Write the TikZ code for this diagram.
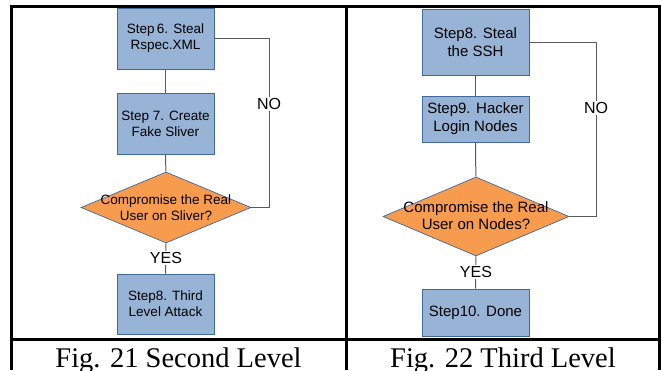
\documentclass[tikz,border=0pt]{standalone}
\usepackage{fontspec}
\setmainfont{Liberation Serif}
\newfontfamily\arialf{Liberation Sans}
\usetikzlibrary{shapes.geometric}
\definecolor{boxfill}{HTML}{97B3D6}
\definecolor{boxline}{HTML}{41699C}
\definecolor{dfill}{HTML}{F79B4F}
\definecolor{conn}{HTML}{5A5A5A}
\begin{document}
\begin{tikzpicture}[x=1pt,y=-1pt,
  stepbox/.style={draw=boxline,fill=boxfill,line width=0.8pt,inner sep=0pt,align=center},
  lbox/.style={stepbox,minimum width=97pt,font=\arialf\fontsize{13.5}{16}\selectfont},
  rbox/.style={stepbox,minimum width=107pt,font=\arialf\fontsize{15}{18}\selectfont},
  decis/.style={shape=diamond,draw=boxline,fill=dfill,line width=0.7pt,inner sep=0pt},
  conline/.style={draw=conn,line width=1pt},
  lab/.style={fill=white,inner sep=1pt,font=\arialf\fontsize{16}{18}\selectfont},
  frame/.style={line width=3pt,draw=black}
]
\useasboundingbox (0,0) rectangle (661,370);
% frame
\draw[frame] (11,370) -- (11,6.5) -- (659,6.5) -- (659,370);
\draw[frame] (346.5,6.5) -- (346.5,370);
\draw[frame] (11,339) -- (659,339);
% captions
\node[font=\fontsize{28.5}{30}\selectfont,anchor=base] (cap1) at (178.5,367) {Fig. 21 Second Level};
\node[font=\fontsize{28.5}{30}\selectfont,anchor=base] (cap2) at (503,367) {Fig. 22 Third Level};

% left diagram
\node[lbox,minimum height=61pt] (a1) at (165.5,38.5) {Step\,6. Steal\\Rspec.XML};
\node[lbox,minimum height=61pt] (a2) at (165.5,123.5) {Step 7. Create\\Fake Sliver};
\node[decis,minimum width=170pt,minimum height=71pt] (ad) at (166,207.5) {};
\node[font=\arialf\fontsize{13.5}{15.5}\selectfont,align=center,inner sep=0pt] (adt) at (166,207.5) {Compromise the Real\\User on Sliver?};
\node[lbox,minimum height=60pt] (a3) at (165.5,304) {Step8. Third\\Level Attack};
\coordinate (an1) at (269,38.5);
\coordinate (an2) at (269,207.5);
\draw[conline] (a1) -- (a2);
\draw[conline] (a2) -- (ad);
\draw[conline] (ad) -- (a3);
\draw[conline] (a1.east) -- (an1) -- (an2) -- (ad.east);
\node[lab] (ano) at (269,104) {NO};
\node[lab] (ayes) at (166,258) {YES};

% right diagram
\node[rbox,minimum height=66pt] (b1) at (475.5,42) {Step8. Steal\\the SSH};
\node[rbox,minimum height=46pt] (b2) at (475.5,119) {Step9. Hacker\\Login Nodes};
\node[decis,minimum width=186pt,minimum height=79pt] (bd) at (476,216.5) {};
\node[font=\arialf\fontsize{15}{17}\selectfont,align=center,inner sep=0pt] (bdt) at (476,215.5) {Compromise the Real\\User on Nodes?};
\node[rbox,minimum height=47pt] (b3) at (475.5,312.5) {Step10. Done};
\coordinate (bn1) at (596,42);
\coordinate (bn2) at (596,216.5);
\draw[conline] (b1) -- (b2);
\draw[conline] (b2) -- (bd);
\draw[conline] (bd) -- (b3);
\draw[conline] (b1.east) -- (bn1) -- (bn2) -- (bd.east);
\node[lab] (bno) at (596,108) {NO};
\node[lab] (byes) at (476,272) {YES};
\end{tikzpicture}
\end{document}
